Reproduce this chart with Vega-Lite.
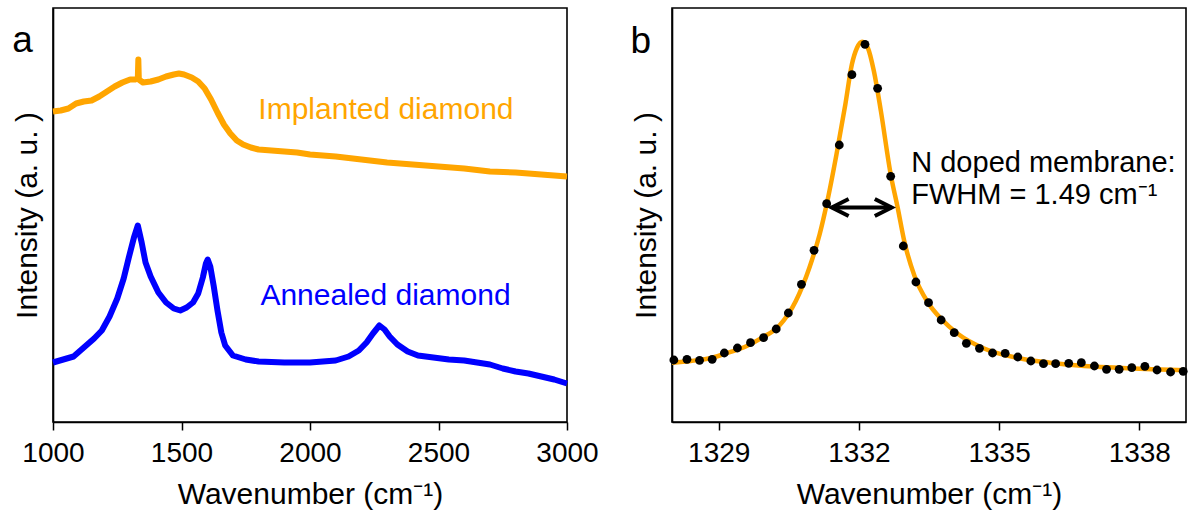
{
  "$schema": "https://vega.github.io/schema/vega-lite/v6.json",
  "padding": {"left": 11, "top": 7, "right": 2, "bottom": 2},
  "spacing": 30,
  "config": {
    "font": "Liberation Sans",
    "view": {"stroke": "black", "strokeWidth": 1.6},
    "axis": {"grid": false, "labelFont": "Liberation Sans", "labelFontSize": 28, "labelColor": "black", "titleFont": "Liberation Sans", "titleFontSize": 30, "titleFontWeight": "normal", "titleColor": "black", "domainColor": "black", "domainWidth": 1.6, "tickColor": "black", "tickWidth": 1.5, "tickSize": 8},
    "axisX": {"labelPadding": 9, "titlePadding": 12, "labelFlush": false},
    "axisY": {"ticks": false, "labels": false, "titlePadding": 11}
  },
  "datasets": {
    "spectra": [
      {"sample": "Implanted diamond", "w": 1000, "v": 310.5},
      {"sample": "Implanted diamond", "w": 1030, "v": 311.5},
      {"sample": "Implanted diamond", "w": 1060, "v": 313.5},
      {"sample": "Implanted diamond", "w": 1090, "v": 318.5},
      {"sample": "Implanted diamond", "w": 1120, "v": 320.5},
      {"sample": "Implanted diamond", "w": 1150, "v": 321.5},
      {"sample": "Implanted diamond", "w": 1180, "v": 325.5},
      {"sample": "Implanted diamond", "w": 1210, "v": 330.5},
      {"sample": "Implanted diamond", "w": 1240, "v": 335.5},
      {"sample": "Implanted diamond", "w": 1270, "v": 339.5},
      {"sample": "Implanted diamond", "w": 1300, "v": 342.5},
      {"sample": "Implanted diamond", "w": 1320, "v": 342.5},
      {"sample": "Implanted diamond", "w": 1330, "v": 343.5},
      {"sample": "Implanted diamond", "w": 1332, "v": 362.5},
      {"sample": "Implanted diamond", "w": 1334, "v": 342.5},
      {"sample": "Implanted diamond", "w": 1350, "v": 339.5},
      {"sample": "Implanted diamond", "w": 1380, "v": 340.5},
      {"sample": "Implanted diamond", "w": 1410, "v": 342.5},
      {"sample": "Implanted diamond", "w": 1440, "v": 345.5},
      {"sample": "Implanted diamond", "w": 1470, "v": 347.5},
      {"sample": "Implanted diamond", "w": 1490, "v": 348.5},
      {"sample": "Implanted diamond", "w": 1510, "v": 347.5},
      {"sample": "Implanted diamond", "w": 1540, "v": 344.5},
      {"sample": "Implanted diamond", "w": 1565, "v": 340.5},
      {"sample": "Implanted diamond", "w": 1590, "v": 333.5},
      {"sample": "Implanted diamond", "w": 1615, "v": 322.5},
      {"sample": "Implanted diamond", "w": 1640, "v": 309.5},
      {"sample": "Implanted diamond", "w": 1665, "v": 297.5},
      {"sample": "Implanted diamond", "w": 1690, "v": 288.5},
      {"sample": "Implanted diamond", "w": 1715, "v": 281.5},
      {"sample": "Implanted diamond", "w": 1740, "v": 277.5},
      {"sample": "Implanted diamond", "w": 1770, "v": 274.5},
      {"sample": "Implanted diamond", "w": 1800, "v": 272.5},
      {"sample": "Implanted diamond", "w": 1850, "v": 271.5},
      {"sample": "Implanted diamond", "w": 1900, "v": 270.5},
      {"sample": "Implanted diamond", "w": 1950, "v": 269.5},
      {"sample": "Implanted diamond", "w": 2000, "v": 267.5},
      {"sample": "Implanted diamond", "w": 2100, "v": 265.5},
      {"sample": "Implanted diamond", "w": 2200, "v": 262.5},
      {"sample": "Implanted diamond", "w": 2300, "v": 259.5},
      {"sample": "Implanted diamond", "w": 2400, "v": 257.5},
      {"sample": "Implanted diamond", "w": 2500, "v": 255.5},
      {"sample": "Implanted diamond", "w": 2600, "v": 253.5},
      {"sample": "Implanted diamond", "w": 2700, "v": 250.5},
      {"sample": "Implanted diamond", "w": 2800, "v": 249.5},
      {"sample": "Implanted diamond", "w": 2900, "v": 247.5},
      {"sample": "Implanted diamond", "w": 3000, "v": 245.5},
      {"sample": "Annealed diamond", "w": 1000, "v": 59.5},
      {"sample": "Annealed diamond", "w": 1040, "v": 62.5},
      {"sample": "Annealed diamond", "w": 1080, "v": 65.5},
      {"sample": "Annealed diamond", "w": 1120, "v": 74.5},
      {"sample": "Annealed diamond", "w": 1160, "v": 83.5},
      {"sample": "Annealed diamond", "w": 1190, "v": 91.5},
      {"sample": "Annealed diamond", "w": 1220, "v": 105.5},
      {"sample": "Annealed diamond", "w": 1250, "v": 123.5},
      {"sample": "Annealed diamond", "w": 1275, "v": 143.5},
      {"sample": "Annealed diamond", "w": 1295, "v": 164.5},
      {"sample": "Annealed diamond", "w": 1315, "v": 184.5},
      {"sample": "Annealed diamond", "w": 1330, "v": 196.5},
      {"sample": "Annealed diamond", "w": 1345, "v": 179.5},
      {"sample": "Annealed diamond", "w": 1360, "v": 159.5},
      {"sample": "Annealed diamond", "w": 1380, "v": 145.5},
      {"sample": "Annealed diamond", "w": 1410, "v": 129.5},
      {"sample": "Annealed diamond", "w": 1440, "v": 119.5},
      {"sample": "Annealed diamond", "w": 1470, "v": 113.5},
      {"sample": "Annealed diamond", "w": 1495, "v": 111.5},
      {"sample": "Annealed diamond", "w": 1520, "v": 114.5},
      {"sample": "Annealed diamond", "w": 1545, "v": 119.5},
      {"sample": "Annealed diamond", "w": 1565, "v": 128.5},
      {"sample": "Annealed diamond", "w": 1583, "v": 144.5},
      {"sample": "Annealed diamond", "w": 1595, "v": 158.5},
      {"sample": "Annealed diamond", "w": 1602, "v": 162.5},
      {"sample": "Annealed diamond", "w": 1612, "v": 155.5},
      {"sample": "Annealed diamond", "w": 1625, "v": 136.5},
      {"sample": "Annealed diamond", "w": 1640, "v": 111.5},
      {"sample": "Annealed diamond", "w": 1655, "v": 89.5},
      {"sample": "Annealed diamond", "w": 1670, "v": 76.5},
      {"sample": "Annealed diamond", "w": 1700, "v": 66.5},
      {"sample": "Annealed diamond", "w": 1750, "v": 62.5},
      {"sample": "Annealed diamond", "w": 1800, "v": 60.5},
      {"sample": "Annealed diamond", "w": 1900, "v": 59.5},
      {"sample": "Annealed diamond", "w": 2000, "v": 59.5},
      {"sample": "Annealed diamond", "w": 2050, "v": 60.5},
      {"sample": "Annealed diamond", "w": 2100, "v": 61.5},
      {"sample": "Annealed diamond", "w": 2150, "v": 65.5},
      {"sample": "Annealed diamond", "w": 2190, "v": 71.5},
      {"sample": "Annealed diamond", "w": 2220, "v": 79.5},
      {"sample": "Annealed diamond", "w": 2245, "v": 88.5},
      {"sample": "Annealed diamond", "w": 2270, "v": 96.5},
      {"sample": "Annealed diamond", "w": 2290, "v": 92.5},
      {"sample": "Annealed diamond", "w": 2310, "v": 85.5},
      {"sample": "Annealed diamond", "w": 2340, "v": 77.5},
      {"sample": "Annealed diamond", "w": 2380, "v": 70.5},
      {"sample": "Annealed diamond", "w": 2420, "v": 66.5},
      {"sample": "Annealed diamond", "w": 2480, "v": 64.5},
      {"sample": "Annealed diamond", "w": 2540, "v": 62.5},
      {"sample": "Annealed diamond", "w": 2600, "v": 61.5},
      {"sample": "Annealed diamond", "w": 2650, "v": 59.5},
      {"sample": "Annealed diamond", "w": 2700, "v": 57.5},
      {"sample": "Annealed diamond", "w": 2750, "v": 53.5},
      {"sample": "Annealed diamond", "w": 2800, "v": 50.5},
      {"sample": "Annealed diamond", "w": 2850, "v": 48.5},
      {"sample": "Annealed diamond", "w": 2900, "v": 45.5},
      {"sample": "Annealed diamond", "w": 2950, "v": 42.5},
      {"sample": "Annealed diamond", "w": 3000, "v": 38.5}
    ],
    "labelsA": [
      {"sample": "Implanted diamond", "text": "Implanted diamond", "w": 1799, "v": 303.2},
      {"sample": "Annealed diamond", "text": "Annealed diamond", "w": 1807, "v": 117.5}
    ],
    "panelA": [{"text": "a", "w": 841, "v": 369.8}],
    "points": [
      {"w": 1328.04, "v": 62}, {"w": 1328.32, "v": 62.7}, {"w": 1328.59, "v": 61.7}, {"w": 1328.86, "v": 62.7},
      {"w": 1329.12, "v": 69}, {"w": 1329.40, "v": 74}, {"w": 1329.68, "v": 79.3}, {"w": 1329.96, "v": 84.3},
      {"w": 1330.23, "v": 93}, {"w": 1330.49, "v": 109}, {"w": 1330.77, "v": 137.7}, {"w": 1331.04, "v": 171.7},
      {"w": 1331.31, "v": 218.3}, {"w": 1331.58, "v": 277}, {"w": 1331.85, "v": 347.3}, {"w": 1332.13, "v": 377.7},
      {"w": 1332.40, "v": 333.7}, {"w": 1332.68, "v": 245.7}, {"w": 1332.95, "v": 176}, {"w": 1333.22, "v": 140},
      {"w": 1333.49, "v": 119.3}, {"w": 1333.76, "v": 102}, {"w": 1334.04, "v": 89.3}, {"w": 1334.30, "v": 78.7},
      {"w": 1334.58, "v": 73.7}, {"w": 1334.86, "v": 69}, {"w": 1335.13, "v": 68.7}, {"w": 1335.40, "v": 65},
      {"w": 1335.68, "v": 61}, {"w": 1335.95, "v": 58.3}, {"w": 1336.21, "v": 58.3}, {"w": 1336.49, "v": 58.7},
      {"w": 1336.76, "v": 59.3}, {"w": 1337.04, "v": 56}, {"w": 1337.30, "v": 52.7}, {"w": 1337.57, "v": 52.7},
      {"w": 1337.84, "v": 54.3}, {"w": 1338.12, "v": 55.7}, {"w": 1338.38, "v": 52}, {"w": 1338.67, "v": 50},
      {"w": 1338.94, "v": 50.7}
    ],
    "fit": [
      {"w": 1328.00, "v": 59.3}, {"w": 1328.40, "v": 61}, {"w": 1328.86, "v": 64.3}, {"w": 1329.20, "v": 69.3},
      {"w": 1329.60, "v": 76}, {"w": 1329.93, "v": 84.3}, {"w": 1330.29, "v": 96}, {"w": 1330.65, "v": 121},
      {"w": 1330.94, "v": 154.3}, {"w": 1331.16, "v": 187.7}, {"w": 1331.31, "v": 217.7}, {"w": 1331.52, "v": 267.7},
      {"w": 1331.71, "v": 317.7}, {"w": 1331.85, "v": 357.7}, {"w": 1331.96, "v": 374.3}, {"w": 1332.07, "v": 380.3},
      {"w": 1332.19, "v": 374.3}, {"w": 1332.32, "v": 351}, {"w": 1332.47, "v": 311}, {"w": 1332.68, "v": 247.7},
      {"w": 1332.83, "v": 214.3}, {"w": 1332.97, "v": 181}, {"w": 1333.19, "v": 146}, {"w": 1333.48, "v": 119.3},
      {"w": 1333.77, "v": 102.7}, {"w": 1334.13, "v": 87.7}, {"w": 1334.64, "v": 74.3}, {"w": 1335.37, "v": 64.3},
      {"w": 1336.09, "v": 59.3}, {"w": 1336.82, "v": 56}, {"w": 1337.54, "v": 54.3}, {"w": 1338.27, "v": 52.7},
      {"w": 1339.00, "v": 51.7}
    ],
    "arrow": [
      {"part": "shaft", "o": 1, "w": 1331.42, "v": 214.5},
      {"part": "shaft", "o": 2, "w": 1332.70, "v": 214.5},
      {"part": "left", "o": 1, "w": 1331.78, "v": 223},
      {"part": "left", "o": 2, "w": 1331.42, "v": 214.5},
      {"part": "left", "o": 3, "w": 1331.78, "v": 206},
      {"part": "right", "o": 1, "w": 1332.34, "v": 223},
      {"part": "right", "o": 2, "w": 1332.70, "v": 214.5},
      {"part": "right", "o": 3, "w": 1332.34, "v": 206}
    ],
    "notesB": [
      {"text": "N doped membrane:", "w": 1333.12, "v": 250.3},
      {"text": "FWHM = 1.49 cm⁻¹", "w": 1333.12, "v": 217.7}
    ],
    "panelB": [{"text": "b", "w": 1327.11, "v": 369.3}]
  },
  "hconcat": [
    {
      "width": 514,
      "height": 414,
      "encoding": {
        "x": {"field": "w", "type": "quantitative", "scale": {"domain": [1000, 3000], "nice": false, "zero": false}, "axis": {"values": [1000, 1500, 2000, 2500, 3000], "format": "d", "title": "Wavenumber (cm⁻¹)"}},
        "y": {"field": "v", "type": "quantitative", "scale": {"domain": [0, 414], "nice": false}, "axis": {"title": "Intensity (a. u. )"}}
      },
      "layer": [
        {
          "data": {"name": "spectra"},
          "mark": {"type": "line", "strokeWidth": 6, "strokeJoin": "round"},
          "encoding": {
            "color": {"field": "sample", "type": "nominal", "scale": {"domain": ["Implanted diamond", "Annealed diamond"], "range": ["#FFA500", "#0000FF"]}, "legend": null}
          }
        },
        {
          "data": {"name": "labelsA"},
          "mark": {"type": "text", "align": "left", "baseline": "alphabetic", "fontSize": 30, "font": "Liberation Sans"},
          "encoding": {
            "text": {"field": "text"},
            "color": {"field": "sample", "type": "nominal", "legend": null}
          }
        },
        {
          "data": {"name": "panelA"},
          "mark": {"type": "text", "align": "left", "baseline": "alphabetic", "fontSize": 37, "font": "Liberation Sans", "color": "black"},
          "encoding": {"text": {"field": "text"}}
        }
      ]
    },
    {
      "width": 514,
      "height": 414,
      "encoding": {
        "x": {"field": "w", "type": "quantitative", "scale": {"domain": [1328, 1339], "nice": false, "zero": false}, "axis": {"values": [1329, 1332, 1335, 1338], "format": "d", "title": "Wavenumber (cm⁻¹)"}},
        "y": {"field": "v", "type": "quantitative", "scale": {"domain": [0, 414], "nice": false}, "axis": {"title": "Intensity (a. u. )"}}
      },
      "layer": [
        {
          "data": {"name": "fit"},
          "mark": {"type": "line", "strokeWidth": 4.5, "color": "#FFA500", "interpolate": "monotone"}
        },
        {
          "data": {"name": "points"},
          "mark": {"type": "point", "filled": true, "size": 78, "color": "black", "opacity": 1}
        },
        {
          "data": {"name": "arrow"},
          "mark": {"type": "line", "strokeWidth": 4, "color": "black", "strokeJoin": "miter", "strokeCap": "butt"},
          "encoding": {"detail": {"field": "part"}, "order": {"field": "o", "type": "quantitative"}}
        },
        {
          "data": {"name": "notesB"},
          "mark": {"type": "text", "align": "left", "baseline": "alphabetic", "fontSize": 29, "font": "Liberation Sans", "color": "black"},
          "encoding": {"text": {"field": "text"}}
        },
        {
          "data": {"name": "panelB"},
          "mark": {"type": "text", "align": "left", "baseline": "alphabetic", "fontSize": 37, "font": "Liberation Sans", "color": "black"},
          "encoding": {"text": {"field": "text"}}
        }
      ]
    }
  ]
}
